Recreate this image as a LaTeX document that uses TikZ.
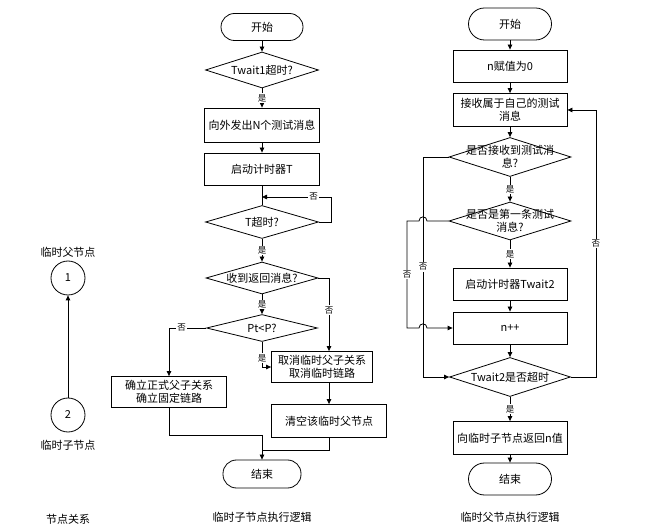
\documentclass[tikz,border=0pt]{standalone}
\usepackage{fontspec}
\setmainfont{Noto Sans CJK SC}
\usetikzlibrary{shapes.geometric}
\usetikzlibrary{arrows.meta}
\usetikzlibrary{calc}

\begin{document}
\begin{tikzpicture}[x=1pt, y=-1pt,
  font=\fontsize{11}{13}\selectfont,
  line/.style={draw, line width=0.8pt},
  arr/.style={line, -{Triangle[length=5pt,width=4.5pt]}},
  box/.style={draw, line width=0.8pt, rectangle, align=center, inner sep=1pt},
  term/.style={draw, line width=0.8pt, rectangle, rounded corners=13.5pt, inner sep=1pt},
  cond/.style={draw, line width=0.8pt, diamond, inner sep=0pt},
  yn/.style={fill=white, inner sep=1pt, font=\fontsize{8.5}{9}\selectfont}]

\useasboundingbox (0,0) rectangle (670,529);

\node (lp) at (68,252) {临时父节点};
\node[circle, draw, line width=0.8pt, minimum size=34pt] (p1) at (68,278) {1};
\node[circle, draw, line width=0.8pt, minimum size=34pt] (p2) at (68,415) {2};
\node (lc) at (68,445) {临时子节点};
\node (cap0) at (68,519) {节点关系};
\draw[arr] (p2) -- (p1);

\node[term, minimum width=82pt, minimum height=27pt] (start1) at (262,27) {开始};
\node[cond, minimum width=113pt, minimum height=36pt, label=center:{Twait1超时?}] (t1) at (262,70) {};
\node[box, minimum width=115pt, minimum height=34pt] (send) at (262,125) {向外发出N个测试消息};
\node[box, minimum width=115pt, minimum height=32pt] (timer) at (262,169) {启动计时器T};
\node[cond, minimum width=113pt, minimum height=33pt, label=center:{T超时?}] (tt) at (262,222) {};
\node[cond, minimum width=112pt, minimum height=32pt, label=center:{收到返回消息?}] (recv) at (262,278) {};
\node[cond, minimum width=111pt, minimum height=27pt, label=center:{Pt<P?}] (pt) at (262,328) {};
\node[box, minimum width=101pt, minimum height=31pt] (cancel) at (322,367) {取消临时父子关系\\取消临时链路};
\node[box, minimum width=115pt, minimum height=31pt] (fix) at (169,392) {确立正式父子关系\\确立固定链路};
\node[box, minimum width=115pt, minimum height=33pt] (clear) at (329,421) {清空该临时父节点};
\node[term, minimum width=78pt, minimum height=28pt] (end1) at (262,474) {结束};
\node (cap1) at (262,517) {临时子节点执行逻辑};

\coordinate (tj) at (262,197);
\coordinate (mj) at (262,435);
\coordinate (mj2) at (262,450);

\draw[arr] (start1) -- (t1);
\draw[arr] (t1) -- node[yn]{是} (send);
\draw[arr] (send) -- (timer);
\draw[line] (timer) -- (tt);
\draw[arr] (tt.east) -- ++(12,0) |- node[yn, pos=0.625]{否} (tj);
\draw[arr] (tt) -- node[yn]{是} (recv);
\draw[arr] (recv) -- node[yn]{是} (pt);
\draw[arr] (recv.east) -| node[yn, pos=0.72]{否} (clear.north |- cancel.north);
\draw[arr] (pt.west) -| node[yn, pos=0.33]{否} (fix.north);
\draw[arr] (pt.south) |- node[yn, pos=0.32]{是} (cancel.west);
\draw[arr] (clear.north |- cancel.south) -- (clear.north);
\draw[line] (fix.south) |- (mj);
\draw[line] (clear.south) |- (mj2);
\draw[arr] (mj) -- (end1);

\node[term, minimum width=83pt, minimum height=32pt, rounded corners=16pt] (start2) at (510,24) {开始};
\node[box, minimum width=114pt, minimum height=32pt] (zero) at (510,66) {n赋值为0};
\node[box, minimum width=114pt, minimum height=33pt] (getmsg) at (510,110) {接收属于自己的测试\\消息};
\node[cond, minimum width=122pt, minimum height=39pt, label={[align=center]center:{是否接收到测试消\\息?}}] (isrecv) at (510,157) {};
\node[cond, minimum width=122pt, minimum height=38pt, label={[align=center]center:{是否是第一条测试\\消息?}}] (first) at (510,221) {};
\node[box, minimum width=114pt, minimum height=32pt] (tw2start) at (510,284) {启动计时器Twait2};
\node[box, minimum width=114pt, minimum height=32pt] (inc) at (510,328) {n++};
\node[cond, minimum width=121pt, minimum height=39pt, label=center:{Twait2是否超时}] (tw2) at (510,377) {};
\node[box, minimum width=114pt, minimum height=33pt] (ret) at (510,438) {向临时子节点返回n值};
\node[term, minimum width=83pt, minimum height=32pt, rounded corners=16pt] (end2) at (510,479) {结束};
\node (cap2) at (510,517) {临时父节点执行逻辑};

\coordinate (a1) at (423,157);
\coordinate (a2) at (407,221);

\draw[arr] (start2) -- (zero);
\draw[arr] (zero) -- (getmsg);
\draw[arr] (getmsg) -- (isrecv);
\draw[arr] (isrecv) -- node[yn]{是} (first);
\draw[arr] (first) -- node[yn]{是} (tw2start);
\draw[arr] (tw2start) -- (inc);
\draw[arr] (inc) -- (tw2);
\draw[arr] (tw2) -- node[yn]{是} (ret);
\draw[arr] (ret) -- (end2);
\draw[arr] (isrecv.west) -- (a1) |- node[yn, pos=0.25]{否} (tw2.west);
\draw[arr] (first.west) -- ($(a1 |- first.west)+(4,0)$) .. controls +(0,-5.5) and +(0,-5.5) .. ($(a1 |- first.west)-(4,0)$)
  -- (a2) -- node[yn]{否} (a2 |- inc.west) -- ($(a1 |- inc.west)-(4,0)$) .. controls +(0,-5.5) and +(0,-5.5) .. ($(a1 |- inc.west)+(4,0)$) -- (inc.west);
\draw[arr] (tw2.east) -- ++(25,0) |- node[yn, pos=0.25]{否} (getmsg.east);

\end{tikzpicture}
\end{document}
